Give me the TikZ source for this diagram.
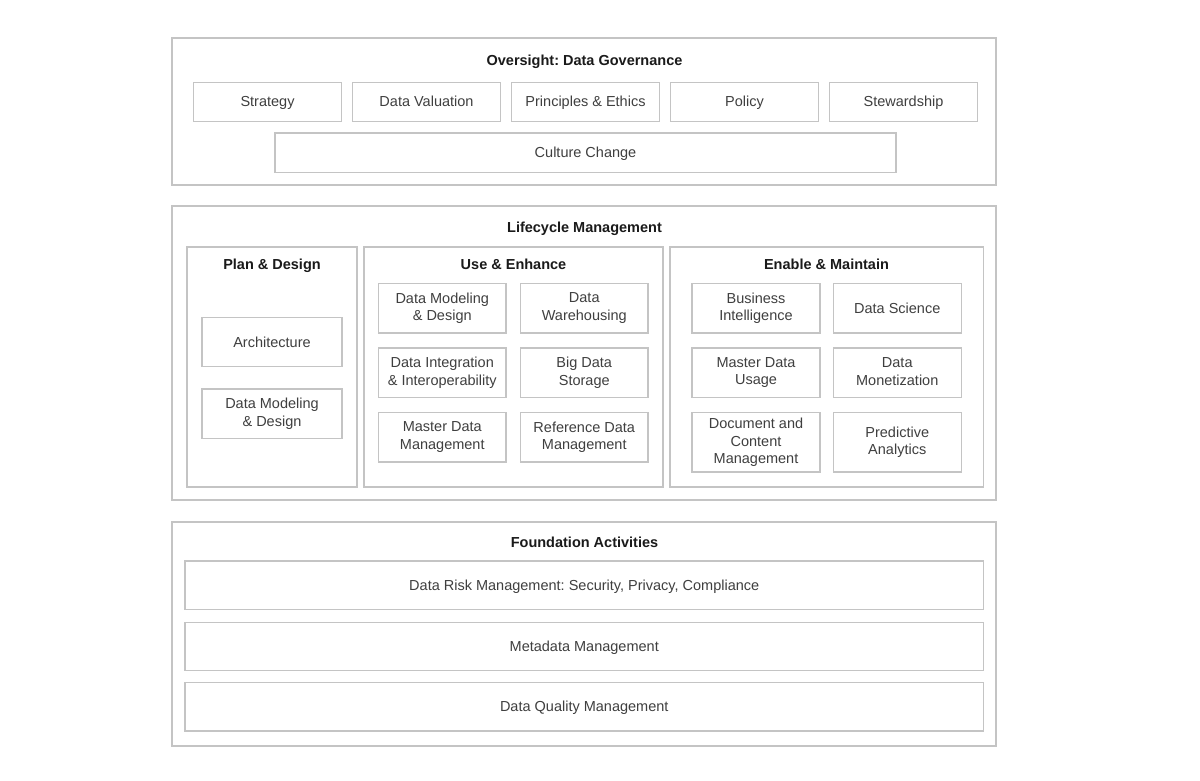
\documentclass[tikz,border=0pt]{standalone}
\usepackage{fontspec}
\setmainfont{Liberation Sans}
\frenchspacing
\definecolor{bordergray}{HTML}{C4C4C4}
\definecolor{txtgray}{HTML}{3F3F3F}
\definecolor{titleblack}{HTML}{1A1A1A}
\newcommand\mystrut{\rule[-2.6pt]{0pt}{15.6pt}}
\begin{document}
\begin{tikzpicture}[x=1pt,y=-1pt,
  panel/.style={draw=bordergray,line width=1.4pt,fill=white,inner sep=0pt,rectangle},
  item/.style={draw=bordergray,line width=1.4pt,inner sep=0pt,rectangle,align=center,
    text=txtgray,font=\fontsize{14.5}{17.5}\selectfont,
    execute at begin node={\mystrut},execute at end node={\mystrut}},
  ttl/.style={inner sep=0pt,text=titleblack,font=\fontsize{14.5}{17.5}\selectfont\bfseries,
    execute at begin node={\mystrut}}]
\useasboundingbox[fill=white] (0,0) rectangle (1200,780);

% ---------- Oversight ----------
\node[panel,minimum width=824pt,minimum height=147pt] (gov) at (584,111.5) {};
\node[ttl] (govt) at (584.5,60.5) {Oversight: Data Governance};
\foreach \n/\x/\t in {strat/267.5/Strategy, val/426.5/Data Valuation, prin/585.5/Principles \& Ethics, pol/744.5/Policy, stew/903.5/Stewardship}
  \node[item,minimum width=148pt,minimum height=39pt] (\n) at (\x,101.7) {\t};
\node[item,minimum width=621pt,minimum height=39.5pt] (cult) at (585.5,152.75) {Culture Change};

% ---------- Lifecycle ----------
\node[panel,minimum width=824pt,minimum height=294pt] (life) at (584,353) {};
\node[ttl] (lifet) at (584.5,228) {Lifecycle Management};

\node[panel,minimum width=170pt,minimum height=240pt] (plan) at (272,367) {};
\node[ttl] (plant) at (272,264.5) {Plan \& Design};
\node[item,minimum width=140pt,minimum height=49pt] (arch) at (272,342) {Architecture};
\node[item,minimum width=140pt,minimum height=49.5pt] (pdmd) at (272,413.75) {Data Modeling\\\& Design};

\node[panel,minimum width=299pt,minimum height=240pt] (use) at (513.5,367) {};
\node[ttl] (uset) at (513.5,264.5) {Use \& Enhance};
\tikzset{ucell/.style={item,minimum width=127.5pt,minimum height=49.5pt}}
\node[ucell] (udmd) at (442.25,308.25) {Data Modeling\\\& Design};
\node[ucell] (uwh)  at (584.25,308.25) {Data\\Warehousing};
\node[ucell] (uint) at (442.25,372.75) {Data Integration\\\& Interoperability};
\node[ucell] (ubig) at (584.25,372.75) {Big Data\\Storage};
\node[ucell] (umdm) at (442.25,437.25) {Master Data\\Management};
\node[ucell] (uref) at (584.25,437.25) {Reference Data\\Management};

\node[panel,minimum width=313.5pt,minimum height=240pt] (enab) at (826.75,367) {};
\node[ttl] (enabt) at (826.5,264.5) {Enable \& Maintain};
\tikzset{ecell/.style={item,minimum width=128pt,minimum height=49.5pt}}
\node[ecell] (ebi)  at (756,308.25) {Business\\Intelligence};
\node[ecell] (eds)  at (897.25,308.25) {Data Science};
\node[ecell] (emdu) at (756,372.75) {Master Data\\Usage};
\node[ecell] (emon) at (897.25,372.75) {Data\\Monetization};
\node[ecell,minimum height=59.5pt] (edoc) at (756,442.25) {Document and\\Content\\Management};
\node[ecell,minimum height=59.5pt] (epred) at (897.25,442.25) {Predictive\\Analytics};

% ---------- Foundation ----------
\node[panel,minimum width=824pt,minimum height=224pt] (found) at (584,634) {};
\node[ttl] (foundt) at (584.5,542.5) {Foundation Activities};
\tikzset{bar/.style={item,minimum width=798.5pt,minimum height=48.5pt}}
\node[bar] (risk) at (584.25,585.25) {Data Risk Management: Security, Privacy, Compliance};
\node[bar] (meta) at (584.25,646.5) {Metadata Management};
\node[bar] (qual) at (584.25,706.75) {Data Quality Management};
\end{tikzpicture}
\end{document}
